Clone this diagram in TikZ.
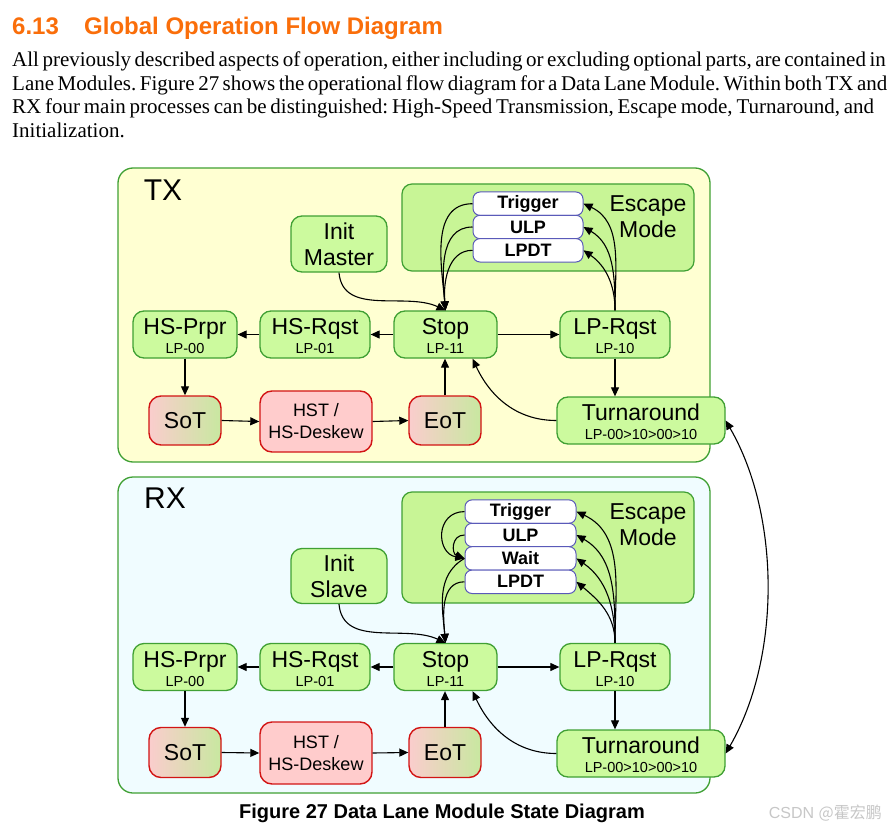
\documentclass[tikz,border=0pt]{standalone}
\usepackage{fontspec}
\setmainfont{Liberation Serif}
\newfontfamily\dsans{Liberation Sans}
\newfontfamily\bodyf[FakeStretch=1.0]{Liberation Serif}
\newfontfamily\cjkf{Noto Sans CJK SC}
\usetikzlibrary{arrows.meta}

\definecolor{nodegreen}{RGB}{204,250,158}
\definecolor{bordergreen}{RGB}{64,160,52}
\definecolor{txbg}{RGB}{255,255,210}
\definecolor{rxbg}{RGB}{240,252,255}
\definecolor{escgreen}{RGB}{200,245,150}
\definecolor{hstpink}{RGB}{255,204,204}
\definecolor{redb}{RGB}{210,20,20}
\definecolor{subblue}{RGB}{90,90,185}
\definecolor{headorange}{RGB}{250,110,10}
\definecolor{sotpink}{RGB}{250,205,205}
\definecolor{sotgreen}{RGB}{200,232,160}

\newcommand\Lg[1]{{\fontsize{23}{26}\selectfont\rule{0pt}{19.5pt}#1}}

\tikzset{
  lane/.style={draw=bordergreen, line width=1.3pt, rounded corners=15pt, inner sep=0pt},
  escbox/.style={draw=bordergreen, fill=escgreen, line width=1.2pt, rounded corners=10pt, inner sep=0pt},
  state/.style={draw=bordergreen, fill=nodegreen, line width=1.3pt, rounded corners=11pt,
    inner sep=0pt, align=center, font=\dsans\fontsize{14.5}{19}\selectfont},
  bigstate/.style={state, font=\dsans\fontsize{23}{26}\selectfont},
  hsbox/.style={draw=redb, line width=1.4pt, rounded corners=12pt, inner sep=0pt, align=center},
  sotbox/.style={hsbox, left color=sotpink, right color=sotgreen, minimum width=72pt, minimum height=49pt,
    font=\dsans\fontsize{23}{26}\selectfont},
  hstbox/.style={hsbox, fill=hstpink, minimum width=112pt, minimum height=61pt,
    font=\dsans\fontsize{18}{22}\selectfont},
  subbox/.style={draw=subblue, fill=white, line width=1pt, rounded corners=7pt, inner sep=0pt,
    minimum height=23.4pt, font=\dsans\bfseries\fontsize{18}{18}\selectfont},
  biglbl/.style={inner sep=0pt, align=center, font=\dsans\fontsize{23}{26}\selectfont},
  lanelbl/.style={inner sep=0pt, font=\dsans\fontsize{30}{30}\selectfont},
  conn/.style={->, line width=1.1pt},
  bodyline/.style={anchor=base west, inner sep=0pt, font=\bodyf\fontsize{21}{23}\selectfont\frenchspacing}
}

\begin{document}
\begin{tikzpicture}[x=1pt,y=-1pt, >={Triangle[length=9pt,width=8pt]}]
\useasboundingbox (0,0) rectangle (892,832);
\fill[white] (0,0) rectangle (892,832);

% heading and paragraph
\node[anchor=base west, inner sep=0pt, text=headorange, font=\dsans\bfseries\fontsize{24}{24}\selectfont] (hnum) at (12,35) {6.13};
\node[anchor=base west, inner sep=0pt, text=headorange, font=\dsans\bfseries\fontsize{24}{24}\selectfont] (htitle) at (84,35) {Global Operation Flow Diagram};
\node[bodyline] (p1) at (12,67) {\makebox[862pt][s]{All previously described aspects of operation, either including or excluding optional parts, are contained in}};
\node[bodyline] (p2) at (12,90.5) {\makebox[862pt][s]{Lane Modules. Figure 27 shows the operational flow diagram for a Data Lane Module. Within both TX and}};
\node[bodyline] (p3) at (12,114) {\makebox[862pt][s]{RX four main processes can be distinguished: High-Speed Transmission, Escape mode, Turnaround, and}};
\node[bodyline] (p4) at (12,137.5) {Initialization.};

% ================= TX =================
\node[lane, fill=txbg, minimum width=592pt, minimum height=294pt] (txlane) at (414,315) {};
\node[lanelbl] (txlbl) at (163,190) {TX};
\node[escbox, minimum width=292pt, minimum height=87pt] (txesc) at (548,227.5) {};
\node[biglbl] (txesclbl) at (648,217) {Escape\\Mode};
\node[subbox, minimum width=110pt] (txtrig) at (528,203.7) {Trigger};
\node[subbox, minimum width=110pt] (txulp) at (528,227) {ULP};
\node[subbox, minimum width=110pt] (txlpdt) at (528,250.3) {LPDT};

\node[bigstate, minimum width=96pt, minimum height=56pt] (txinit) at (339,244) {Init\\Master};
\node[state, minimum width=104pt, minimum height=47pt] (txprpr) at (185,334.5) {\Lg{HS-Prpr}\\LP-00};
\node[state, minimum width=110pt, minimum height=47pt] (txrqst) at (315,334.5) {\Lg{HS-Rqst}\\LP-01};
\node[state, minimum width=103pt, minimum height=47pt] (txstop) at (445.5,334.5) {\Lg{Stop}\\LP-11};
\node[state, minimum width=110pt, minimum height=47pt] (txlprq) at (615,334.5) {\Lg{LP-Rqst}\\LP-10};
\node[sotbox] (txsot) at (185,420.5) {SoT};
\node[hstbox] (txhst) at (316,421.5) {HST /\\HS-Deskew};
\node[sotbox] (txeot) at (445,420.5) {EoT};
\node[state, minimum width=168pt, minimum height=47pt] (txturn) at (641,420.5) {\Lg{Turnaround}\\LP-00>10>00>10};

\draw[conn] (txinit.south) to[out=-85,in=155] (txstop.north);
\draw[conn] (txstop.west) -- (txrqst.east);
\draw[conn] (txrqst.west) -- (txprpr.east);
\draw[conn] (txprpr.south) -- (txsot.north);
\draw[conn] (txsot.east) -- (txhst.west);
\draw[conn] (txhst.east) -- (txeot.west);
\draw[conn] (txeot.north) -- (txeot.north |- txstop.south);
\draw[conn] (txstop.east) -- (txlprq.west);
\draw[conn] (txlprq.south) -- (txlprq.south |- txturn.north);
\draw[conn] (txturn.west) to[out=180,in=-65] ([xshift=27pt]txstop.south);
\draw[conn] (txtrig.west) to[out=180,in=95] (txstop.north);
\draw[conn] (txulp.west) to[out=180,in=95] (txstop.north);
\draw[conn] (txlpdt.west) to[out=180,in=95] (txstop.north);
\draw[conn] (txlprq.north) to[out=90,in=-25] (txtrig.east);
\draw[conn] (txlprq.north) to[out=90,in=-30] (txulp.east);
\draw[conn] (txlprq.north) to[out=90,in=-35] (txlpdt.east);

% ================= RX =================
\node[lane, fill=rxbg, minimum width=592pt, minimum height=316pt] (rxlane) at (414,635) {};
\node[lanelbl] (rxlbl) at (165,498) {RX};
\node[escbox, minimum width=292pt, minimum height=111pt] (rxesc) at (548,547.5) {};
\node[biglbl] (rxesclbl) at (648,525) {Escape\\Mode};
\node[subbox, minimum width=111pt] (rxtrig) at (520.5,511.6) {Trigger};
\node[subbox, minimum width=111pt] (rxulp) at (520.5,535) {ULP};
\node[subbox, minimum width=111pt] (rxwait) at (520.5,558.4) {Wait};
\node[subbox, minimum width=111pt] (rxlpdt) at (520.5,581.8) {LPDT};

\node[bigstate, minimum width=96pt, minimum height=55pt] (rxinit) at (339,576) {Init\\Slave};
\node[state, minimum width=104pt, minimum height=47pt] (rxprpr) at (185,667) {\Lg{HS-Prpr}\\LP-00};
\node[state, minimum width=110pt, minimum height=47pt] (rxrqst) at (315,667) {\Lg{HS-Rqst}\\LP-01};
\node[state, minimum width=103pt, minimum height=47pt] (rxstop) at (445.5,667) {\Lg{Stop}\\LP-11};
\node[state, minimum width=110pt, minimum height=47pt] (rxlprq) at (615,667) {\Lg{LP-Rqst}\\LP-10};
\node[sotbox, minimum height=50pt] (rxsot) at (185,752.5) {SoT};
\node[hstbox, minimum height=62pt] (rxhst) at (316,753) {HST /\\HS-Deskew};
\node[sotbox, minimum height=50pt] (rxeot) at (445,752.5) {EoT};
\node[state, minimum width=168pt, minimum height=47pt] (rxturn) at (641,753.5) {\Lg{Turnaround}\\LP-00>10>00>10};

\draw[conn] (rxinit.south) to[out=-85,in=155] (rxstop.north);
\draw[conn] (rxstop.west) -- (rxrqst.east);
\draw[conn] (rxrqst.west) -- (rxprpr.east);
\draw[conn] (rxprpr.south) -- (rxsot.north);
\draw[conn] (rxsot.east) -- (rxhst.west);
\draw[conn] (rxhst.east) -- (rxeot.west);
\draw[conn] (rxeot.north) -- (rxeot.north |- rxstop.south);
\draw[conn] (rxstop.east) -- (rxlprq.west);
\draw[conn] (rxlprq.south) -- (rxlprq.south |- rxturn.north);
\draw[conn] (rxturn.west) to[out=180,in=-65] ([xshift=27pt]rxstop.south);
\draw[conn] (rxtrig.west) to[out=180,in=170,looseness=1.6] (rxwait.west);
\draw[conn] (rxulp.west) to[out=180,in=160,looseness=1.5] (rxwait.west);
\draw[conn] (rxwait.west) to[out=210,in=95] (rxstop.north);
\draw[conn] (rxlpdt.west) to[out=180,in=95] (rxstop.north);
\draw[conn] (rxlprq.north) to[out=90,in=-25] (rxtrig.east);
\draw[conn] (rxlprq.north) to[out=90,in=-30] (rxulp.east);
\draw[conn] (rxlprq.north) to[out=90,in=-35] (rxwait.east);
\draw[conn] (rxlprq.north) to[out=90,in=-40] (rxlpdt.east);

% link between the two Turnaround states
\draw[<->, line width=1.1pt] (txturn.east) to[out=-60,in=60,looseness=0.85] (rxturn.east);

% caption and watermark
\node[inner sep=0pt, font=\dsans\bfseries\fontsize{20}{20}\selectfont] (cap) at (442,813) {Figure 27 Data Lane Module State Diagram};
\node[anchor=east, inner sep=0pt, text=black!22, font=\dsans\fontsize{16}{16}\selectfont] (wm) at (882,813) {CSDN {\cjkf @霍宏鹏}};
\end{tikzpicture}
\end{document}
